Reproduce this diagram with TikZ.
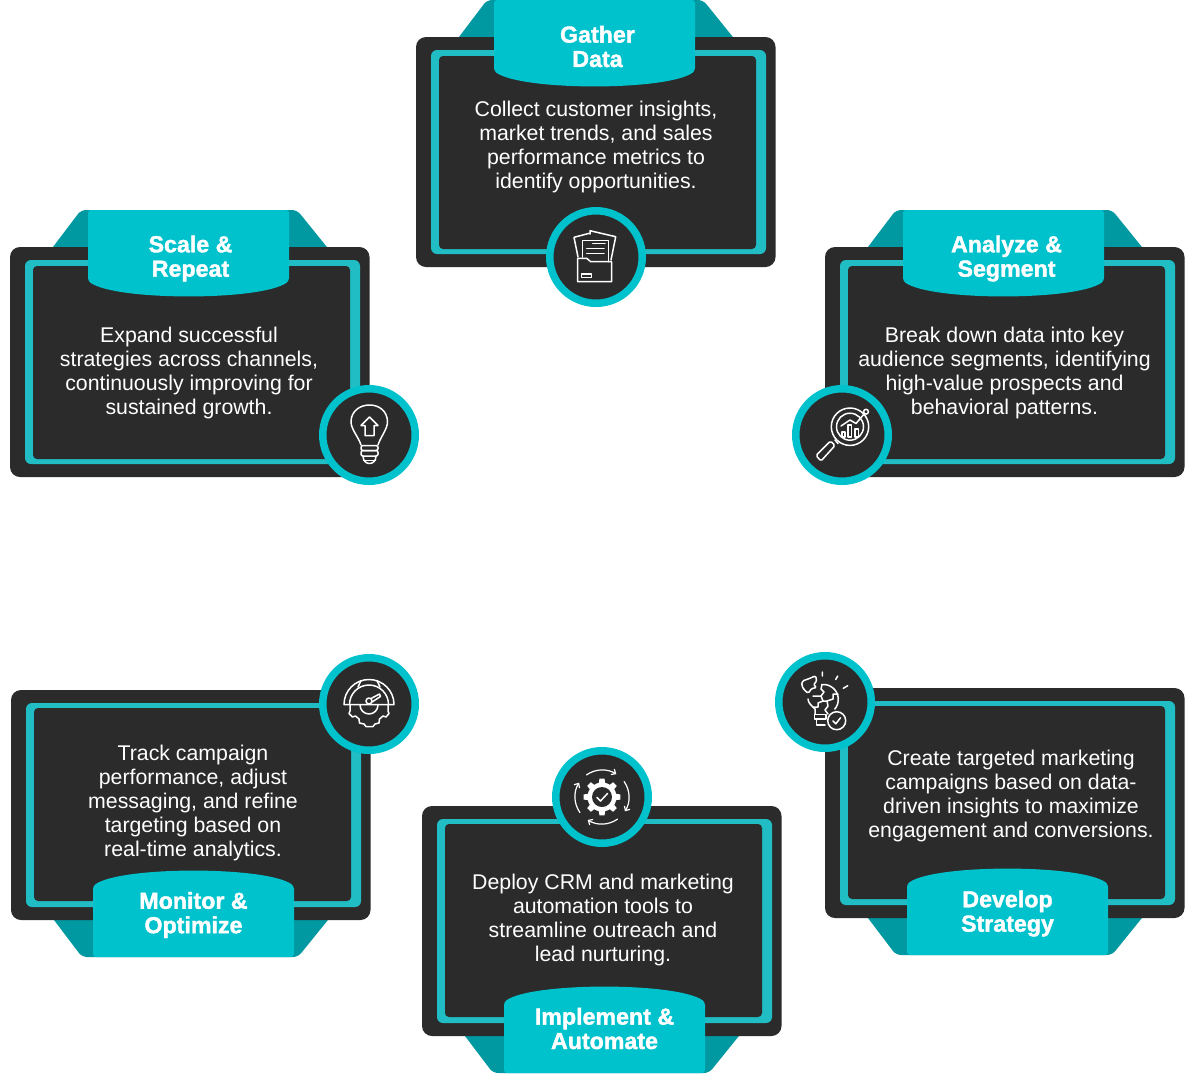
\documentclass[tikz,border=0pt]{standalone}
\usepackage{fontspec}
\setmainfont{Liberation Sans}
\newfontfamily\headfont[FakeBold=1.6]{Liberation Sans Bold}
\usetikzlibrary{arrows.meta}
\definecolor{cardbg}{HTML}{2B2B2B}
\definecolor{ringteal}{HTML}{00C2CC}
\definecolor{frameteal}{HTML}{20BDC5}
\definecolor{backteal}{HTML}{0098A1}
\tikzset{
  bodytext/.style={text=white,align=center,inner sep=0pt,font=\fontsize{21.3}{24}\selectfont},
  headtext/.style={text=white,align=center,inner sep=0pt,font=\headfont\fontsize{23.2}{24.4}\selectfont},
  iconring/.style={circle,draw=ringteal,fill=cardbg,line width=7.5pt,minimum size=92.5pt,inner sep=0pt,outer sep=0pt},
  iconline/.style={draw=white,line width=1.5pt,line join=round,line cap=round},
}
% #1 x, #2 y of the edge the tab sits on, #3 flip (1 or -1), #4 tab offset
\newcommand{\cardshape}[4]{%
  \begin{scope}[shift={(#1,#2)},yscale=#3]
    \fill[backteal,rounded corners=5pt] (35.4,10) -- (71,-37) -- (287,-37) -- (325,10) -- cycle;
    \fill[cardbg,rounded corners=10pt] (0,0) rectangle (359.5,230);
    \fill[frameteal,rounded corners=6pt] (15,13) rectangle (350,217);
    \fill[cardbg,rounded corners=4pt] (23,19) rectangle (340,212);
    \fill[ringteal,rounded corners=3pt] (#4,-37) -- (#4,34)
      .. controls (#4+28,54) and (#4+173,54) .. (#4+201,34) -- (#4+201,-37) -- cycle;
  \end{scope}}
\begin{document}
\begin{tikzpicture}[x=1pt,y=-1pt]
\useasboundingbox (0,0) rectangle (1200,1080);
\fill[white] (0,0) rectangle (1200,1080);
% cards
\cardshape{416}{37}{1}{78}
\cardshape{10}{247}{1}{78}
\cardshape{825}{247}{1}{78}
\cardshape{11}{920}{-1}{82}
\cardshape{422}{1036}{-1}{82}
\cardshape{825}{918}{-1}{82}
% titles
\node[headtext] (t1) at (597.5,46.5) {Gather\\Data};
\node[headtext] (t2) at (1006.5,258.5) {Analyze \&\\Segment};
\node[headtext] (t3) at (1007.5,913.5) {Develop\\Strategy};
\node[headtext] (t4) at (604.5,1028.5) {Implement \&\\Automate};
\node[headtext] (t5) at (193.5,915) {Monitor \&\\Optimize};
\node[headtext] (t6) at (190.5,258.5) {Scale \&\\Repeat};
% texts
\node[bodytext] (b1) at (596,147) {Collect customer insights,\\market trends, and sales\\performance metrics to\\identify opportunities.};
\node[bodytext] (b2) at (1004.5,373) {Break down data into key\\audience segments, identifying\\high-value prospects and\\behavioral patterns.};
\node[bodytext] (b3) at (1011,795.5) {Create targeted marketing\\campaigns based on data-\\driven insights to maximize\\engagement and conversions.};
\node[bodytext] (b4) at (603,919.5) {Deploy CRM and marketing\\automation tools to\\streamline outreach and\\lead nurturing.};
\node[bodytext] (b5) at (193,803) {Track campaign\\performance, adjust\\messaging, and refine\\targeting based on\\real-time analytics.};
\node[bodytext] (b6) at (189,373) {Expand successful\\strategies across channels,\\continuously improving for\\sustained growth.};
% icon discs
\node[iconring] (c1) at (596,257) {};
\node[iconring] (c2) at (842,435) {};
\node[iconring] (c3) at (825,702) {};
\node[iconring] (c4) at (602,797) {};
\node[iconring] (c5) at (369,704) {};
\node[iconring] (c6) at (369,435) {};
% folder icon
\begin{scope}[shift={(596,257)}]
  \draw[iconline] (-18,0) -- (-22,-19.7) -- (-6.7,-23.7);
  \draw[iconline] (-6,-23) -- (-6,-26.3) -- (19.7,-20.3) -- (15,3);
  \draw[iconline] (-13.3,0) -- (-13.3,-16.3) -- (12.3,-16.3) -- (12.3,4.7);
  \draw[iconline] (-3.3,-13.7) -- (9,-13.7) (-9.3,-8.7) -- (8,-8.7) (-9.3,-3.7) -- (8,-3.7);
  \draw[iconline] (-18.3,1.3) -- (-9.3,1.3) -- (-5.3,4.7) -- (15.7,4.7) -- (15.7,24.7) -- (-18.3,24.7) -- cycle;
  \draw[iconline] (-14.3,17) rectangle (-4.3,20.7);
\end{scope}
% magnifier icon
\begin{scope}[shift={(842,435)}]
  \draw[iconline] (8,-8.3) circle[radius=18.7];
  \draw[iconline] (8,-8.3) circle[radius=13.5];
  \draw[iconline] (0,-3) rectangle (3,2) (6,-10) rectangle (9.5,2) (13,-6) rectangle (16.5,2);
  \draw[iconline] (-1,-9) -- (8,-15) -- (14,-11.5) -- (22.5,-21.5);
  \draw[iconline,fill=cardbg] (24,-23.3) circle[radius=2.4];
  \draw[iconline] (-7,5) -- (-4,8.5);
  \draw[iconline,rounded corners=1.5pt] (-26,20.5) -- (-11.5,6) -- (-7,10.5) -- (-21,26) -- cycle;
\end{scope}
% puzzle bulb icon
\begin{scope}[shift={(825,702)}]
  \draw[iconline,rounded corners=1.5pt] (-23.3,-16.3) -- (-22.7,-21) -- (-15,-23.7) -- (-9.3,-26.3) -- (-8.3,-20.3) -- (-11.7,-17.7) -- (-8.3,-14.3) -- (-13.3,-13.7) -- (-16.7,-8.7) -- (-20.7,-12) -- cycle;
  \draw[iconline] (-2.7,-30) -- (-2.7,-26) (12.7,-26) -- (10.7,-22.5) (22.7,-16.3) -- (18.3,-13.7);
  \draw[iconline] (-10,12) -- (-10,7) .. controls (-13,4) and (-17,1) .. (-17,-3);
  \draw[iconline] (-3,-17.5) arc[start angle=-95,end angle=40,radius=15];
  \draw[iconline] (-3,-17.5) -- (-4,-13) -- (-1,-10) -- (-4,-6) -- (-12,-6) (-4,-6) -- (-2,-1) -- (2,-1) -- (3,4) -- (0,8) -- (3,12);
  \draw[iconline] (-2,-1) -- (-7,1) -- (-7,5) -- (-12,5);
  \draw[iconline] (2,-1) -- (8,-3) -- (8,-8) -- (13,-8);
  \draw[iconline] (-10.7,12.3) rectangle (1,17);
  \draw[iconline] (-8.3,17) -- (-8.3,23) -- (0,23);
  \draw[iconline,fill=cardbg] (11.7,18.7) circle[radius=9];
  \draw[iconline] (8,19) -- (10.8,21.8) -- (15.5,15.8);
\end{scope}
% gear and arrows icon
\begin{scope}[shift={(602,797)}]
  \fill[white] (0,0) circle[radius=14.5];
  \foreach \a in {0,45,...,315} {
    \fill[white] (\a-13:14) -- (\a-8:18.5) -- (\a+8:18.5) -- (\a+13:14) -- cycle;
  }
  \fill[cardbg] (0,0) circle[radius=10];
  \draw[iconline] (-5,0.5) -- (-1.5,4) -- (5.5,-3.5);
  \draw[iconline,line width=1.2pt,-{Straight Barb[length=3.5pt,width=6.5pt]}] (-125:27) arc[start angle=-125,end angle=-58,radius=27];
  \draw[iconline,line width=1.2pt,-{Straight Barb[length=3.5pt,width=6.5pt]}] (-35:27) arc[start angle=-35,end angle=32,radius=27];
  \draw[iconline,line width=1.2pt,-{Straight Barb[length=3.5pt,width=6.5pt]}] (55:27) arc[start angle=55,end angle=122,radius=27];
  \draw[iconline,line width=1.2pt,-{Straight Barb[length=3.5pt,width=6.5pt]}] (145:27) arc[start angle=145,end angle=212,radius=27];
\end{scope}
% gauge icon
\begin{scope}[shift={(369,704)}]
  \draw[iconline] (-25,0.5) arc[start angle=180,end angle=360,radius=25] -- cycle;
  \draw[iconline] (-19.5,0.5) arc[start angle=180,end angle=360,radius=19.5];
  \draw[iconline] (-11,-17) -- (-8,-23.5) (11,-17) -- (8,-23.5);
  \draw[iconline] (-9,1) arc[start angle=180,end angle=0,radius=9];
  \draw[iconline] (0,-3) circle[radius=3];
  \draw[iconline] (2,-5.5) -- (10.5,-10) -- (11.5,-7.5) -- (3,-2);
  \draw[iconline] (-19,1) -- (-19,7) -- (-20,9.5) -- (-16.5,13) -- (-13.5,12) -- (-10,15) -- (-9.5,19) -- (-5,20) -- (-3,22.5) -- (4,22.5) -- (6,20) -- (10,19) -- (10.5,15) -- (14,12) -- (17,13) -- (20,9.5) -- (19,7) -- (19,1);
\end{scope}
% bulb icon
\begin{scope}[shift={(369,435)}]
  \draw[iconline] (-8,10) .. controls (-10,3) and (-18,-6) .. (-18,-13) .. controls (-18,-24) and (-9,-30) .. (0.5,-30) .. controls (10,-30) and (18.5,-24) .. (18.5,-13) .. controls (18.5,-6) and (11,3) .. (9,10);
  \draw[iconline] (0.5,-18) -- (-8,-9.5) -- (-4,-9.5) -- (-4,0.7) -- (5,0.7) -- (5,-9.5) -- (9,-9.5) -- cycle;
  \draw[iconline,rounded corners=2pt] (-8,10.5) rectangle (9,15.5);
  \draw[iconline,rounded corners=2pt] (-8,15.5) rectangle (9,21);
  \draw[iconline] (-6,21) .. controls (-6,31) and (7,31) .. (7,21);
  \draw[iconline] (-5.5,25.5) -- (6.5,25.5);
\end{scope}
\end{tikzpicture}
\end{document}
